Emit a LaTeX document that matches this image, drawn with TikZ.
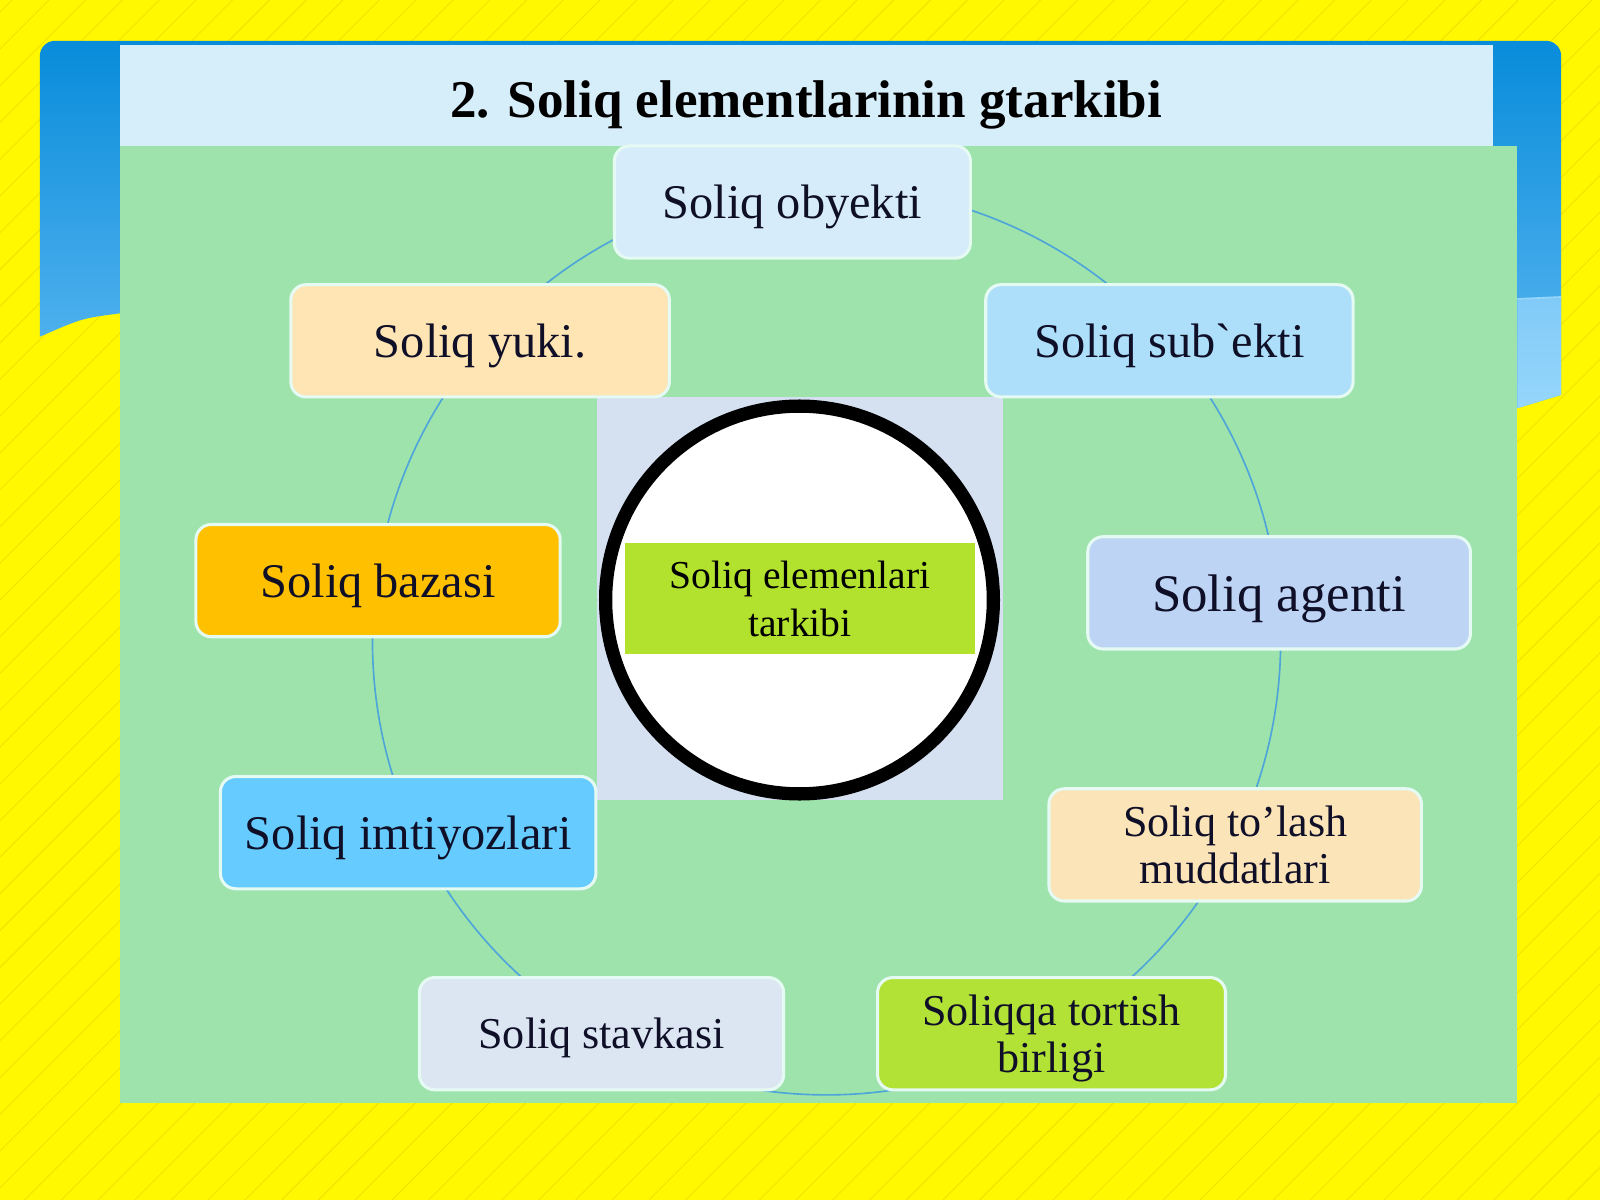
\documentclass[tikz,border=0pt]{standalone}
\usepackage{fontspec}
\setmainfont{Liberation Serif}
\newfontfamily\plainserif{Liberation Serif}[Ligatures=TeXOff]
\definecolor{yel}{RGB}{255,248,0}
\definecolor{stripe}{RGB}{226,212,0}
\definecolor{blueTop}{RGB}{8,140,218}
\definecolor{blueBot}{RGB}{95,185,242}
\definecolor{blueLow}{RGB}{128,202,248}
\definecolor{blueLow2}{RGB}{150,214,250}
\definecolor{titlebg}{RGB}{214,237,250}
\definecolor{panel}{RGB}{158,226,172}
\definecolor{lav}{RGB}{213,225,241}
\definecolor{ringc}{RGB}{78,165,218}
\definecolor{boxedge}{RGB}{228,250,242}
\definecolor{textc}{RGB}{15,15,40}
\definecolor{cA}{RGB}{214,236,250}
\definecolor{cB}{RGB}{255,229,180}
\definecolor{cC}{RGB}{173,223,250}
\definecolor{cD}{RGB}{255,192,0}
\definecolor{cE}{RGB}{190,212,245}
\definecolor{cF}{RGB}{102,204,255}
\definecolor{cG}{RGB}{252,228,185}
\definecolor{cH}{RGB}{220,230,243}
\definecolor{cI}{RGB}{178,226,54}
\definecolor{coreg}{RGB}{178,226,46}
\begin{document}
\begin{tikzpicture}[x=0.5pt,y=-0.5pt,
  elembox/.style={draw=boxedge, line width=1.5pt, rounded corners=7.5pt,
    inner sep=0pt, align=center, text=textc, minimum height=55pt, text depth=0pt,
    font=\fontsize{23.7}{25}\selectfont},
  smallbox/.style={elembox, font=\fontsize{21.6}{23}\selectfont},
  stripeline/.style={draw=stripe, line width=0.45pt, opacity=0.55}
]
\useasboundingbox (0,0) rectangle (1568,1176);
% yellow background with diagonal stripes
\fill[yel] (0,0) rectangle (1568,1176);
\begin{scope}
  \clip (0,0) rectangle (1568,1176);
  \foreach \i in {-1200,-1164,...,1560}
    \draw[stripeline] (\i,1176) -- ++(1176,-1176);
\end{scope}
% blue frame
\shade[top color=blueTop, bottom color=blueBot]
  (39,330) {[rounded corners=7.5pt] -- (39,40) -- (1530,40) -- (1530,200)}
  -- (1530,387) -- (1487,400) -- (118,307) .. controls (80,312) .. (39,330) -- cycle;
\shade[top color=blueLow, bottom color=blueLow2]
  (1487,293) -- (1530,291) -- (1530,387) -- (1487,400) -- cycle;
\draw[blueLow2, line width=0.8pt] (1487,293) -- (1530,291);
% title bar and panel
\fill[titlebg] (118,44) rectangle (1463,143);
\fill[panel] (118,143) rectangle (1487,1081);
\fill[lav] (585,389) rectangle (983,784);
% ring through the elements
\coordinate (ringc0) at (810,628);
\draw[ringc, line width=0.8pt] (ringc0) circle[radius=222.5pt];
% element boxes
\node[elembox, fill=cA, minimum width=174.5pt] (obyekti) at (776.5,198) {Soliq obyekti};
\node[elembox, fill=cB, minimum width=185.5pt] (yuki) at (470.5,334) {Soliq yuki.};
\node[elembox, fill=cC, minimum width=180pt] (subekti) at (1146,334) {Soliq sub{\plainserif\symbol{96}}ekti};
\node[elembox, fill=cD, minimum width=178.5pt] (bazasi) at (370.5,569) {Soliq bazasi};
\node[elembox, fill=cE, minimum width=187.5pt, font=\fontsize{25.9}{27}\selectfont] (agenti) at (1253.5,581) {Soliq agenti};
\node[elembox, fill=cF, minimum width=184pt] (imtiyoz) at (400,816) {Soliq imtiyozlari};
\node[smallbox, fill=cG, minimum width=182.5pt] (tolash) at (1210.5,828) {Soliq to’lash\\muddatlari};
\node[smallbox, fill=cH, minimum width=178.5pt] (stavka) at (589.5,1013) {Soliq stavkasi};
\node[smallbox, fill=cI, minimum width=170.5pt] (birlik) at (1030.5,1013) {Soliqqa tortish\\birligi};
% centre
\node[circle, draw=black, line width=6.5pt, fill=white, minimum size=190pt, inner sep=0pt] (hub) at (783.5,588) {};
\node[fill=coreg, minimum width=171.5pt, minimum height=54.5pt, inner sep=0pt, align=center,
  text=black, text depth=0pt, font=\fontsize{19.4}{23.5}\selectfont] (core) at (784,586.5) {Soliq elemenlari\\tarkibi};
% title
\node[anchor=base, text=black, font=\bfseries\fontsize{26}{30}\selectfont] (title) at (790,115) {2. Soliq elementlarinin gtarkibi};
\end{tikzpicture}
\end{document}
